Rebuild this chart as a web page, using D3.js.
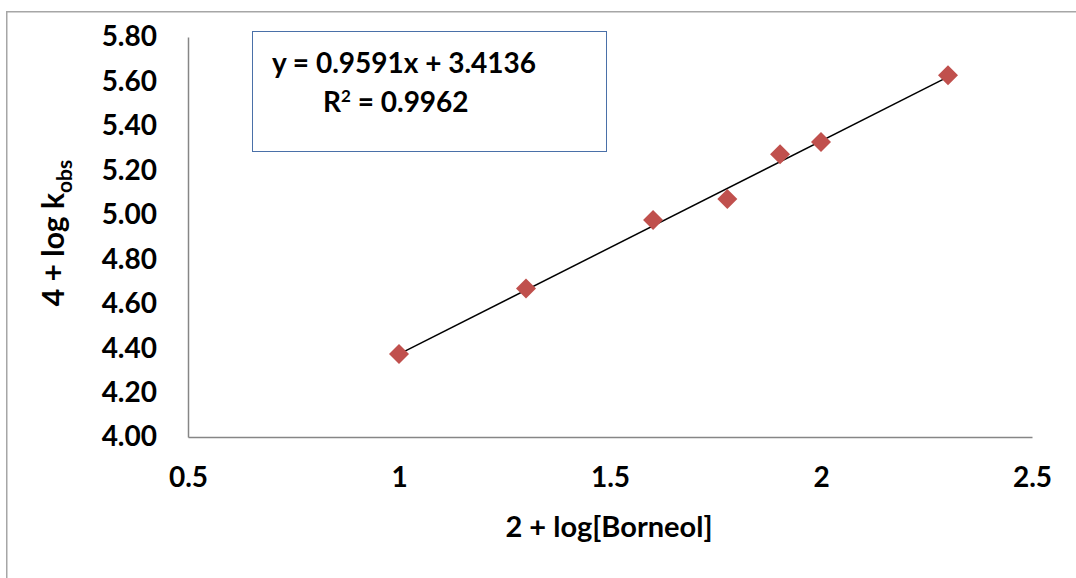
<!DOCTYPE html>
<html>
<head>
<meta charset="utf-8">
<script src="https://cdn.jsdelivr.net/npm/d3@7"></script>
<style>
  body { margin: 0; background: #fff; }
  text { font-family: Lato, "Open Sans", sans-serif; font-weight: bold; fill: #000; }
</style>
</head>
<body>
<div id="chart"></div>
<script>
// data: x = 2 + log[Borneol], y = 4 + log k_obs
var xValues = [1, 1.301, 1.602, 1.778, 1.903, 2, 2.301],
	yValues = [4.374, 4.668, 4.977, 5.071, 5.272, 5.328, 5.628],
	xTicks  = [0.5, 1, 1.5, 2, 2.5],
	yTicks  = [4.0, 4.2, 4.4, 4.6, 4.8, 5.0, 5.2, 5.4, 5.6, 5.8],
	slope   = 0.9591,
	offset  = 3.4136,
	eqnText = "y = 0.9591x + 3.4136",
	r2Value = "0.9962";

var w = 1076, h = 578,
	plotL = 188, plotR = 1032, plotT = 37, plotB = 437;

var svg = d3.select("#chart").append("svg")
	.attr("width", w)
	.attr("height", h);

// outer chart frame (runs off the right and bottom of the picture)
svg.append("rect")
	.attr("x", 6.75).attr("y", 11.75)
	.attr("width", w + 20).attr("height", h + 20)
	.attr("fill", "none")
	.attr("stroke", "#a6a6a6")
	.attr("stroke-width", 1.5);

var x = d3.scaleLinear().domain([0.5, 2.5]).range([plotL, plotR]);
var y = d3.scaleLinear().domain([4.0, 5.8]).range([plotB, plotT]);

// axes, no tick marks, Excel style labels
var xAxis = svg.append("g")
	.attr("transform", "translate(0," + plotB + ")")
	.call(d3.axisBottom(x).tickValues(xTicks).tickSize(0).tickPadding(30).tickFormat(d3.format("")));
var yAxis = svg.append("g")
	.attr("transform", "translate(" + plotL + ",0)")
	.call(d3.axisLeft(y).tickValues(yTicks).tickSize(0).tickPadding(31).tickFormat(d3.format(".2f")));

[xAxis, yAxis].forEach(function(a) {
	a.select(".domain").attr("stroke", "#868686").attr("stroke-width", 1.5);
	a.selectAll("text").style("font-size", "28px").attr("fill", "#000");
});

// trendline
var fitX = [d3.min(xValues), d3.max(xValues)];
svg.append("line")
	.attr("x1", x(fitX[0])).attr("y1", y(slope * fitX[0] + offset))
	.attr("x2", x(fitX[1])).attr("y2", y(slope * fitX[1] + offset))
	.attr("stroke", "#000")
	.attr("stroke-width", 1.5);

// points, diamonds
var diamond = d3.symbol().type(d3.symbolSquare).size(200);
svg.selectAll(".pt")
	.data(xValues)
	.enter()
	.append("path")
	.attr("class", "pt")
	.attr("d", diamond)
	.attr("transform", function(d, i) { return "translate(" + x(d) + "," + y(yValues[i]) + ") rotate(45)"; })
	.attr("fill", "#c0504d");

// equation box
svg.append("rect")
	.attr("x", 252.5).attr("y", 31.5)
	.attr("width", 354).attr("height", 120)
	.attr("fill", "#fff")
	.attr("stroke", "#4a70a8")
	.attr("stroke-width", 1);
svg.append("text")
	.attr("x", 272).attr("y", 73)
	.style("font-size", "28px")
	.text(eqnText);
var r2 = svg.append("text")
	.attr("x", 323).attr("y", 112)
	.style("font-size", "28px");
r2.append("tspan").text("R");
r2.append("tspan").attr("dy", -10).style("font-size", "17px").text("2");
r2.append("tspan").attr("dy", 10).text(" = " + r2Value);

// axis titles
svg.append("text")
	.attr("x", 609).attr("y", 537)
	.attr("text-anchor", "middle")
	.style("font-size", "29px")
	.text("2 + log[Borneol]");

var yt = svg.append("text")
	.attr("transform", "translate(64,233) rotate(-90)")
	.attr("text-anchor", "middle")
	.style("font-size", "30px");
yt.append("tspan").text("4 + log k");
yt.append("tspan").attr("dy", 8).style("font-size", "21px").text("obs");
</script>
</body>
</html>
